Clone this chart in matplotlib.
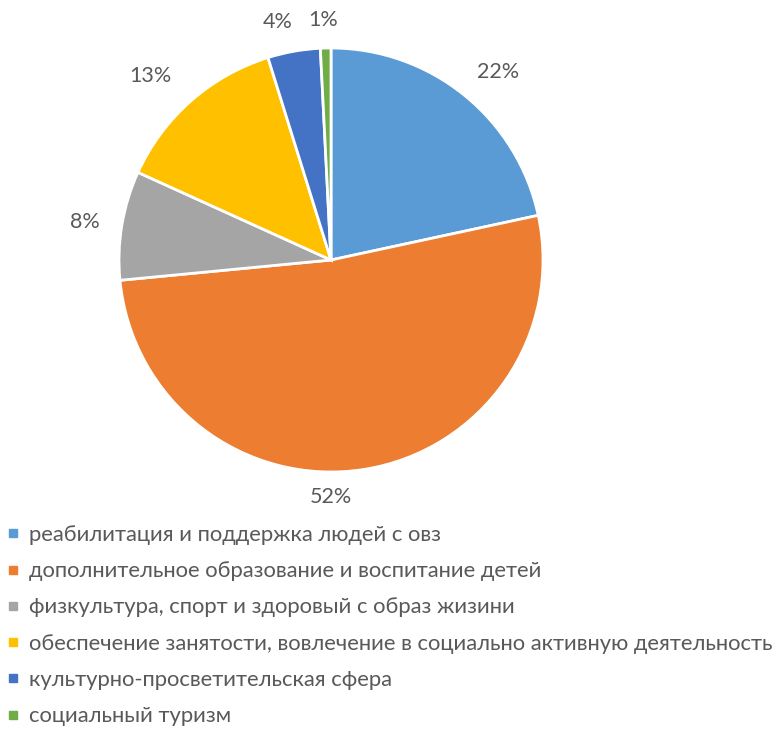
import matplotlib
matplotlib.use("Agg")
import matplotlib.pyplot as plt
from matplotlib.lines import Line2D

categories = [
    "реабилитация и поддержка людей с овз",
    "дополнительное образование и воспитание детей",
    "физкультура, спорт и здоровый с образ жизини",
    "обеспечение занятости, вовлечение в социально активную деятельность",
    "культурно-просветительская сфера",
    "социальный туризм",
]
values = [21.6, 51.8, 8.3, 13.4, 4.0, 0.8]
labels_pct = ["22%", "52%", "8%", "13%", "4%", "1%"]
colors = ["#5B9BD5", "#ED7D31", "#A5A5A5", "#FFC000", "#4472C4", "#70AD47"]
# label anchor positions (pixels from top-left), as Excel's best-fit placed them
label_pos = [(498, 72), (331, 497), (85, 222), (150, 76), (278, 22), (323, 20)]

plt.rcParams['font.family'] = ['Lato', 'DejaVu Sans']
TXT = "#595959"

W, H = 779, 731
fig = plt.figure(figsize=(W / 100, H / 100), dpi=100)
ax = fig.add_axes([0, 0, 1, 1])

wedges, texts = ax.pie(values, colors=colors, startangle=90, counterclock=False,
                       center=(331, H - 260), radius=212,
                       labels=labels_pct, labeldistance=1.15,
                       wedgeprops=dict(edgecolor="white", linewidth=2.0),
                       textprops=dict(color=TXT, fontsize=15.5))
for t, (px, py) in zip(texts, label_pos):
    t.set_ha('center')
    t.set_va('center')
    t.set_position((px, H - py))
ax.set_xlim(0, W)
ax.set_ylim(0, H)
ax.set_aspect('equal')
ax.axis('off')

handles = [Line2D([0], [0], marker='s', linestyle='none', markersize=6,
                  markerfacecolor=c, markeredgecolor=c) for c in colors]
leg = fig.legend(handles, categories, loc='upper left',
                 bbox_to_anchor=(8 / W, 1 - 525 / H), frameon=False,
                 fontsize=15.8, labelcolor=TXT, handlelength=0.5,
                 handletextpad=0.45, labelspacing=0.74, borderaxespad=0,
                 borderpad=0)

fig.savefig("out.png", dpi=100)
